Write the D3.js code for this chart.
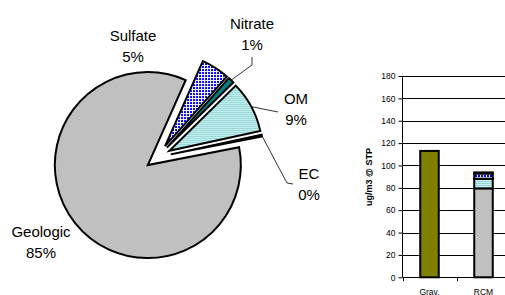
<!DOCTYPE html>
<html>
<head>
<meta charset="utf-8">
<script src="https://cdn.jsdelivr.net/npm/d3@7"></script>
<style>
  body { margin: 0; background: #fff; }
  svg { display: block; font-family: "Liberation Sans", Arial, sans-serif; }
</style>
</head>
<body>
<svg id="chart" width="505" height="295"></svg>
<script>
// species, in the order the pie goes round (clockwise from the Sulfate edge)
var species = ["Sulfate", "Nitrate", "OM", "EC", "Geologic"];
var rcmValues = [4.6, 1.0, 8.4, 0.3, 79.5];   // ug/m3 @ STP
// bar chart
var barCats = ["Grav.", "RCM"];
var gravValue = 113;
var stackOrder = ["Geologic", "OM", "EC", "Sulfate", "Nitrate"];   // bottom to top
var yTicks = [0, 20, 40, 60, 80, 100, 120, 140, 160, 180];

var fills = {
  Sulfate: "url(#sulfatePat)",
  Nitrate: "#008080",
  OM: "url(#omPat)",
  EC: "#000000",
  Geologic: "#c0c0c0"
};

// where the labels sit (label centre) and the leader line bends
var labelAt = {
  Sulfate:  { x: 133, y: 36 },
  Nitrate:  { x: 252, y: 24, lead: [[252, 65], [252, 57]] },
  OM:       { x: 296, y: 99, lead: [[278, 112]] },
  EC:       { x: 309, y: 174, lead: [[287, 183], [293, 184]] },
  Geologic: { x: 41, y: 232 }
};

var svg = d3.select("#chart");
var defs = svg.append("defs");

// blue cross hatch
var p1 = defs.append("pattern").attr("id", "sulfatePat")
  .attr("patternUnits", "userSpaceOnUse").attr("width", 3).attr("height", 3);
p1.append("rect").attr("width", 3).attr("height", 3).attr("fill", "#0000ff");
p1.append("rect").attr("width", 3).attr("height", 1).attr("fill", "#ffffff");
p1.append("rect").attr("width", 1).attr("height", 3).attr("fill", "#ffffff");

// light cyan with fine horizontal lines
var p2 = defs.append("pattern").attr("id", "omPat")
  .attr("patternUnits", "userSpaceOnUse").attr("width", 4).attr("height", 2);
p2.append("rect").attr("width", 4).attr("height", 2).attr("fill", "#c4f6f6");
p2.append("rect").attr("y", 1).attr("width", 4).attr("height", 1).attr("fill", "#99d0d0");

// ---------- pie ----------
var cx = 158, cy = 157, R = 93, explode = 13;
var total = d3.sum(rcmValues);
var start = 24 * Math.PI / 180;

var pie = d3.pie().sort(null).startAngle(start).endAngle(start + 2 * Math.PI);
var arcs = pie(rcmValues);
arcs.forEach(function (a, i) { a.name = species[i]; });

var arc = d3.arc().innerRadius(0).outerRadius(R);

function shift(a) {
  var m = (a.startAngle + a.endAngle) / 2;
  return [Math.sin(m) * explode, -Math.cos(m) * explode];
}

var pieG = svg.append("g").attr("transform", "translate(" + cx + "," + cy + ")");

pieG.selectAll("path.slice")
  .data(arcs)
  .enter()
  .append("path")
  .attr("class", "slice")
  .attr("transform", function (a) { var s = shift(a); return "translate(" + s[0] + "," + s[1] + ")"; })
  .attr("d", arc)
  .attr("fill", function (a) { return fills[a.name]; })
  .attr("stroke", "#000")
  .attr("stroke-width", 2)
  .attr("stroke-linejoin", "miter");

// leader lines
arcs.forEach(function (a) {
  var lab = labelAt[a.name];
  if (!lab.lead) return;
  var s = shift(a);
  var m = (a.startAngle + a.endAngle) / 2;
  var pts = [[cx + s[0] + Math.sin(m) * R, cy + s[1] - Math.cos(m) * R]].concat(lab.lead);
  svg.append("path")
    .attr("d", d3.line()(pts))
    .attr("fill", "none")
    .attr("stroke", "#000")
    .attr("stroke-width", 0.8);
});

// labels
var labs = svg.selectAll("g.plabel")
  .data(arcs)
  .enter()
  .append("g")
  .attr("class", "plabel");
labs.append("text")
  .attr("x", function (a) { return labelAt[a.name].x; })
  .attr("y", function (a) { return labelAt[a.name].y + 5.4; })
  .attr("text-anchor", "middle")
  .attr("font-size", 15)
  .attr("fill", "#000")
  .text(function (a) { return a.name; });
labs.append("text")
  .attr("x", function (a) { return labelAt[a.name].x; })
  .attr("y", function (a) { return labelAt[a.name].y + 5.4 + 21; })
  .attr("text-anchor", "middle")
  .attr("font-size", 15)
  .attr("fill", "#000")
  .text(function (a) { return Math.round(a.value / total * 100) + "%"; });

// ---------- bar chart ----------
var x = d3.scaleBand().domain(barCats).range([402.5, 510.5]).paddingInner(0.62).paddingOuter(0.31);
var y = d3.scaleLinear().domain([0, 180]).range([277.3, 76]);

// gridlines
svg.append("g").selectAll("line")
  .data(yTicks.slice(1))
  .enter()
  .append("line")
  .attr("x1", 402.5).attr("x2", 505)
  .attr("y1", function (d) { return Math.round(y(d)) + 0.5; })
  .attr("y2", function (d) { return Math.round(y(d)) + 0.5; })
  .attr("stroke", "#000").attr("stroke-width", 1);

var yAxis = d3.axisLeft(y).tickValues(yTicks).tickSize(4).tickPadding(3);
svg.append("g")
  .attr("transform", "translate(402.5,0)")
  .call(yAxis)
  .call(function (g) {
    g.selectAll("text").attr("font-size", 8.5).attr("font-family", "Liberation Sans, Arial, sans-serif").attr("fill", "#000");
    g.selectAll("line").attr("stroke", "#000");
    g.select(".domain").attr("stroke", "#000").attr("d", "M0," + y(180) + "V" + y(0));
  });

// x axis
var xAxisG = svg.append("g");
xAxisG.append("line")
  .attr("x1", 402.5).attr("x2", 505)
  .attr("y1", 277.5).attr("y2", 277.5)
  .attr("stroke", "#000");
xAxisG.selectAll("line.xt")
  .data(barCats)
  .enter()
  .append("line")
  .attr("class", "xt")
  .attr("x1", function (d) { return Math.round(x(d) - x.step() * x.paddingInner() / 2) + 0.5; })
  .attr("x2", function (d) { return Math.round(x(d) - x.step() * x.paddingInner() / 2) + 0.5; })
  .attr("y1", 277.5).attr("y2", 281)
  .attr("stroke", "#000");
xAxisG.selectAll("text")
  .data(barCats)
  .enter()
  .append("text")
  .attr("x", function (d) { return x(d) + x.bandwidth() / 2; })
  .attr("y", 294.5)
  .attr("text-anchor", "middle")
  .attr("font-size", 8.5)
  .text(function (d) { return d; });

// Grav. bar
svg.append("rect")
  .attr("x", x("Grav.") + 1)
  .attr("width", x.bandwidth() - 2)
  .attr("y", y(gravValue))
  .attr("height", y(0) - y(gravValue))
  .attr("fill", "#808000")
  .attr("stroke", "#000")
  .attr("stroke-width", 2);

// RCM stacked bar
var stackVals = stackOrder.map(function (n) { return rcmValues[species.indexOf(n)]; });
var acc = 0;
var segs = stackVals.map(function (v, i) {
  var s = { name: stackOrder[i], y0: acc, y1: acc + v };
  acc += v;
  return s;
});
svg.append("g").selectAll("rect")
  .data(segs)
  .enter()
  .append("rect")
  .attr("x", x("RCM") + 1)
  .attr("width", x.bandwidth() - 2)
  .attr("y", function (d) { return y(d.y1); })
  .attr("height", function (d) { return y(d.y0) - y(d.y1); })
  .attr("fill", function (d) { return fills[d.name]; })
  .attr("stroke", "#000")
  .attr("stroke-width", 2);

// y title
svg.append("text")
  .attr("transform", "translate(372,177) rotate(-90)")
  .attr("text-anchor", "middle")
  .attr("font-size", 9)
  .attr("font-weight", "bold")
  .text("ug/m3 @ STP");
</script>
</body>
</html>
